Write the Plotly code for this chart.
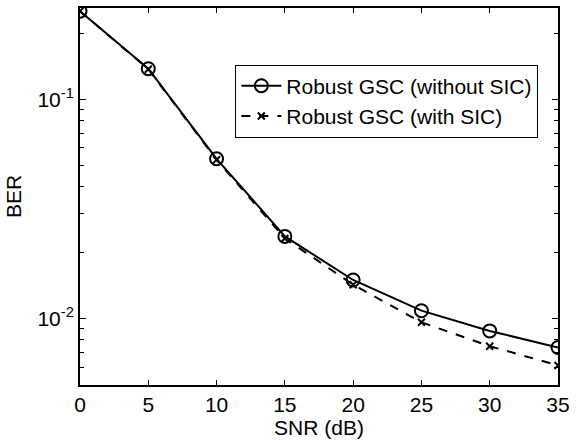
import plotly.graph_objects as go

snr = [0, 5, 10, 15, 20, 25, 30, 35]
ber_without_sic = [0.252, 0.1377, 0.0535, 0.0237, 0.0150, 0.01087, 0.00879, 0.00739]
ber_with_sic = [0.252, 0.1370, 0.0530, 0.0232, 0.01428, 0.00962, 0.00749, 0.00612]
name_without = "Robust GSC (without SIC)"
name_with = "Robust GSC (with SIC)"
y_major = [0.01, 0.1]
y_major_text = ["10<sup>-2</sup>", "10<sup>-1</sup>"]
y_minor = [0.005, 0.006, 0.007, 0.008, 0.009, 0.02, 0.03, 0.04, 0.05,
           0.06, 0.07, 0.08, 0.09, 0.2]
x_ticks = [0, 5, 10, 15, 20, 25, 30, 35]

FONT = "Liberation Sans, Arial, sans-serif"
FS = 21

fig = go.Figure()
fig.add_trace(go.Scatter(
    x=snr, y=ber_without_sic, name=name_without, mode="lines+markers",
    line=dict(color="black", width=2),
    marker=dict(symbol="circle-open", size=13, color="black", line=dict(width=2)),
))
fig.add_trace(go.Scatter(
    x=snr, y=ber_with_sic, name=name_with, mode="lines+markers",
    line=dict(color="black", width=2, dash="dash"),
    marker=dict(symbol="x-thin-open", size=7, color="black", line=dict(width=2, color="black")),
))

fig.update_layout(
    width=576, height=441,
    margin=dict(l=80, r=13, t=6, b=56),
    paper_bgcolor="white", plot_bgcolor="white",
    font=dict(family=FONT, size=FS, color="black"),
    showlegend=True,
    legend=dict(
        x=0.325, y=0.85, xanchor="left", yanchor="top",
        bgcolor="white", bordercolor="black", borderwidth=1,
        font=dict(family=FONT, size=FS, color="black"),
        tracegroupgap=0, itemwidth=40,
    ),
    xaxis=dict(
        range=[0, 35], tickvals=x_ticks, ticks="inside", ticklen=5,
        tickcolor="black", showline=True, linecolor="black", linewidth=2,
        mirror="ticks", showgrid=False, zeroline=False,
        tickfont=dict(size=FS),
        title=dict(text="SNR (dB)", standoff=0, font=dict(size=FS)),
    ),
    yaxis=dict(
        type="log", range=[-2.3025, -0.5843],
        tickvals=y_major, ticktext=y_major_text, ticks="inside", ticklen=6,
        tickcolor="black", showline=True, linecolor="black", linewidth=2,
        mirror="ticks", showgrid=False, zeroline=False,
        tickfont=dict(size=FS),
        minor=dict(tickvals=y_minor, ticks="inside", ticklen=4, tickcolor="black", showgrid=False),
        title=dict(text="BER", standoff=10, font=dict(size=FS)),
    ),
)

fig.write_html("out.html")
